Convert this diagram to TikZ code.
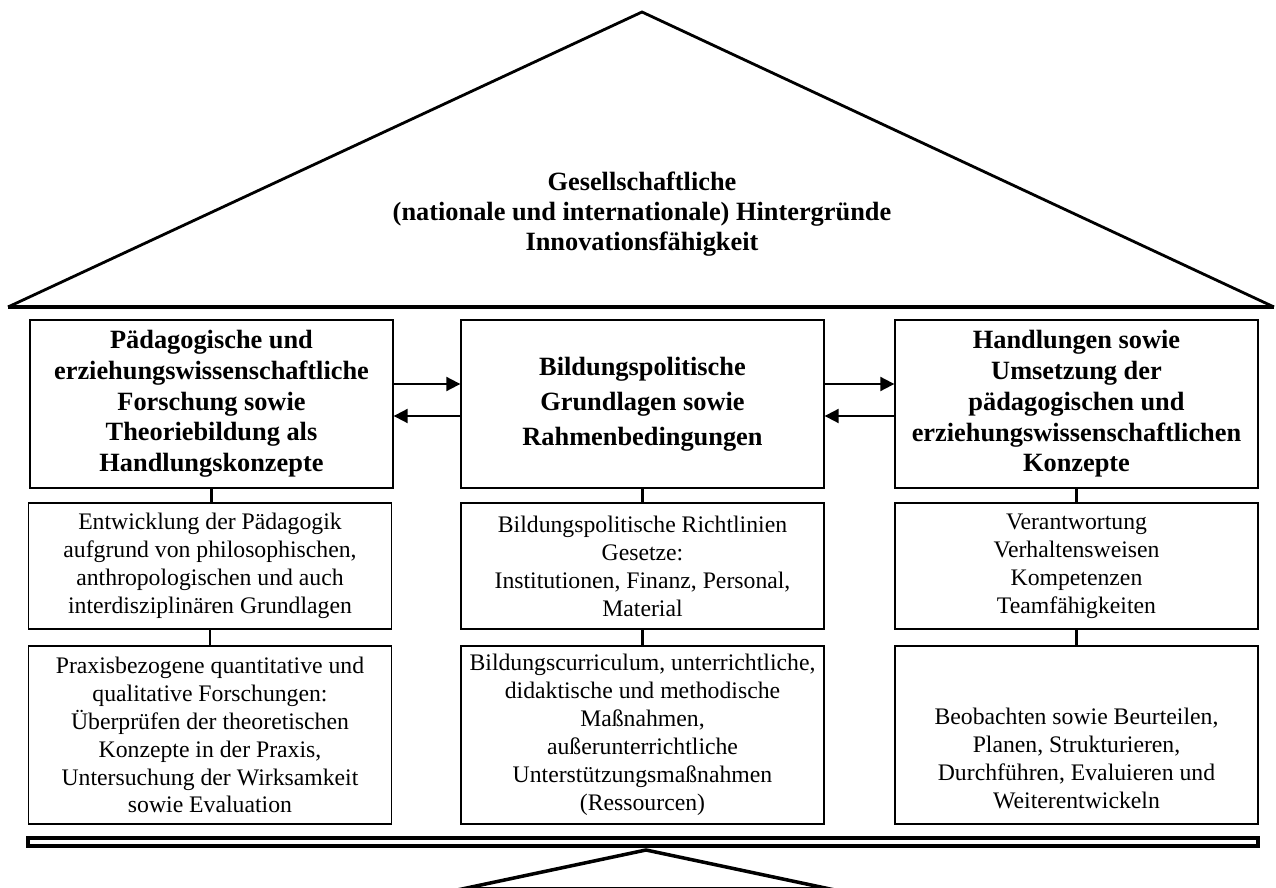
\documentclass[tikz,border=0pt]{standalone}
\usepackage{fontspec}
\setmainfont{Liberation Serif}
\usetikzlibrary{arrows.meta}

\begin{document}
\begin{tikzpicture}[x=0.02cm,y=-0.02cm,
    headbox/.style={draw, line width=0.8pt, align=center, minimum width=7.26cm,
      minimum height=3.36cm, inner xsep=1pt, inner ysep=1pt,
      font=\bfseries\fontsize{15}{17.5}\selectfont},
    infobox/.style={draw, line width=1pt, align=center, minimum width=7.26cm,
      inner xsep=1pt, inner ysep=2pt, font=\fontsize{13.5}{15.9}\selectfont},
    link/.style={line width=1.3pt},
    flow/.style={line width=1.1pt, -{Triangle[length=8pt,width=8pt]}}]
      \useasboundingbox (0,0) rectangle (1276,888);

      % Roof
      \coordinate (eaveL) at (8,307);
      \coordinate (ridge) at (642,12);
      \coordinate (eaveR) at (1274,307);
      \draw[line width=1.6pt, line join=miter] (eaveL) -- (ridge) -- (eaveR);
      \draw[line width=2pt] (eaveL) -- (eaveR);
      \node[align=center, font=\bfseries\fontsize{15}{17.2}\selectfont] (roof) at (642,214)
        {Gesellschaftliche\\(nationale und internationale) Hintergründe\\Innovationsfähigkeit};

      % Top row
      \node[headbox] (L1) at (211.5,404) {Pädagogische und\\erziehungswissenschaftliche\\Forschung sowie\\Theoriebildung als\\Handlungskonzepte};
      \node[headbox, font=\bfseries\fontsize{15}{19.8}\selectfont] (M1) at (642.5,404) {Bildungspolitische\\Grundlagen sowie\\Rahmenbedingungen};
      \node[headbox] (R1) at (1076.5,404) {Handlungen sowie\\Umsetzung der\\pädagogischen und\\erziehungswissenschaftlichen\\Konzepte};

      % Second row
      \node[infobox, minimum height=2.52cm] (L2) at (210,566) {Entwicklung der Pädagogik\\aufgrund von philosophischen,\\anthropologischen und auch\\interdisziplinären Grundlagen};
      \node[infobox, minimum height=2.52cm] (M2) at (642.5,566) {Bildungspolitische Richtlinien\\Gesetze:\\Institutionen, Finanz, Personal,\\Material};
      \node[infobox, minimum height=2.52cm] (R2) at (1076.5,566) {Verantwortung\\Verhaltensweisen\\Kompetenzen\\Teamfähigkeiten};

      % Third row
      \node[infobox, minimum height=3.56cm] (L3) at (210,735) {Praxisbezogene quantitative und\\qualitative Forschungen:\\Überprüfen der theoretischen\\Konzepte in der Praxis,\\Untersuchung der Wirksamkeit\\sowie Evaluation};
      \node[infobox, minimum height=3.56cm] (M3) at (642.5,735) {Bildungscurriculum, unterrichtliche,\\didaktische und methodische\\Maßnahmen,\\außerunterrichtliche\\Unterstützungsmaßnahmen\\(Ressourcen)};
      \node[infobox, minimum height=3.56cm] (R3) at (1076.5,735) {\mbox{}\\[20pt]Beobachten sowie Beurteilen,\\Planen, Strukturieren,\\Durchführen, Evaluieren und\\Weiterentwickeln};

      % Vertical links
      \foreach \col in {L,M,R} {
        \draw[link] (\col1.south) -- (\col1.south |- \col2.north);
        \draw[link] (\col2.south) -- (\col2.south |- \col3.north);
      }

      % Arrows between the pillars
      \draw[flow] ([yshift=0.4cm]L1.east) -- ([yshift=0.4cm]M1.west);
      \draw[flow] ([yshift=-0.24cm]M1.west) -- ([yshift=-0.24cm]L1.east);
      \draw[flow] ([yshift=0.4cm]M1.east) -- ([yshift=0.4cm]R1.west);
      \draw[flow] ([yshift=-0.24cm]R1.west) -- ([yshift=-0.24cm]M1.east);

      % Foundation
      \draw[line width=2pt] (28,838) rectangle (1258,846);
      \coordinate (baseL) at (462,889);
      \coordinate (baseTop) at (646,850);
      \coordinate (baseR) at (830,889);
      \draw[line width=2pt] (baseL) -- (baseTop) -- (baseR) -- cycle;
\end{tikzpicture}
\end{document}
